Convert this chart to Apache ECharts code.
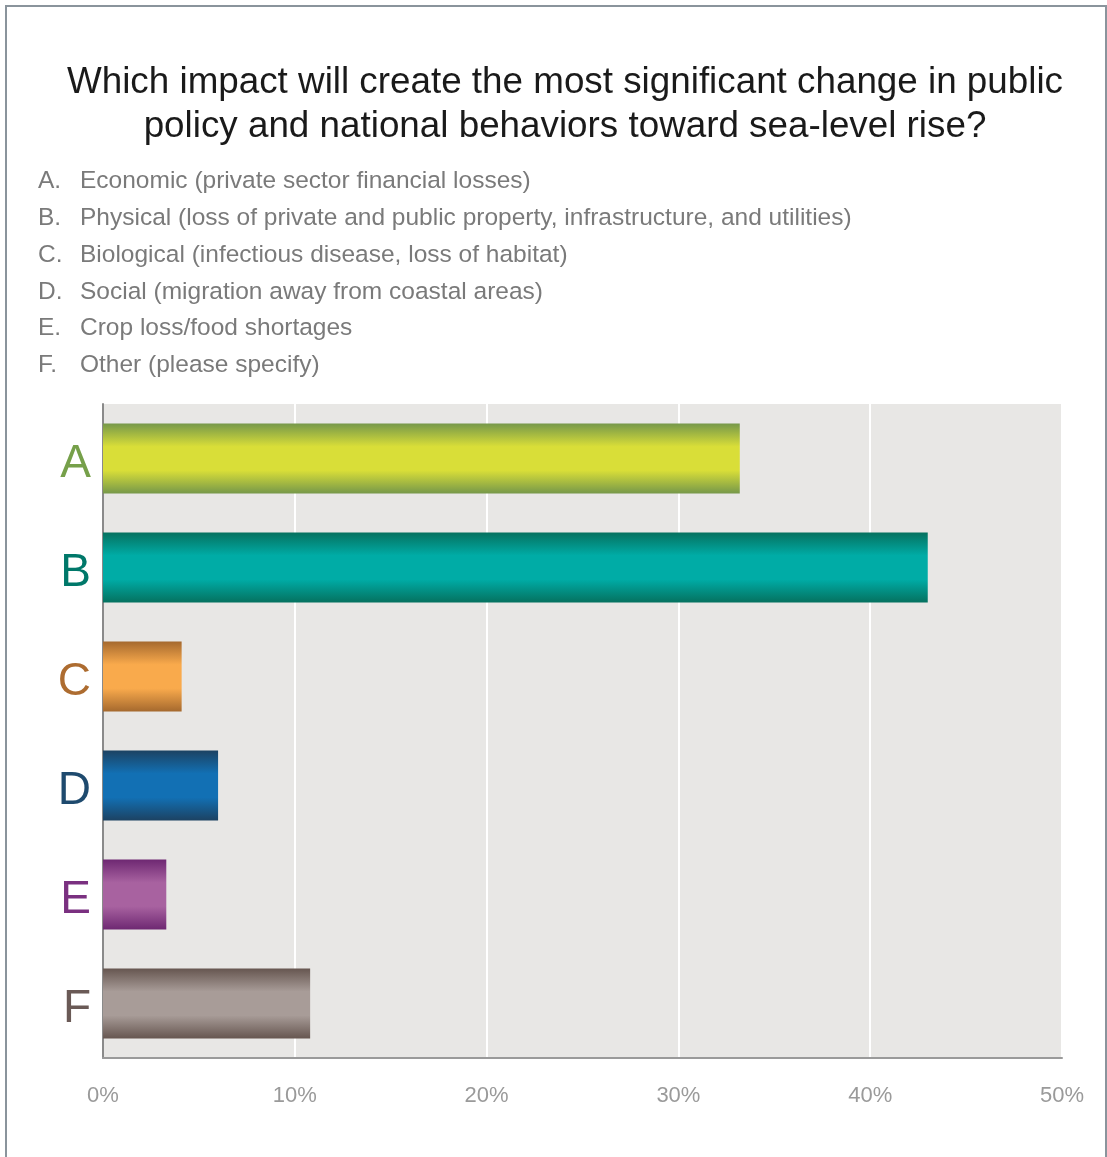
<!DOCTYPE html>
<html>
<head>
<meta charset="utf-8">
<style>
  html, body { margin: 0; padding: 0; background: #ffffff; }
  #chart { width: 1107px; height: 1157px; }
</style>
<script src="https://cdn.jsdelivr.net/npm/echarts@6/dist/echarts.min.js"></script>
</head>
<body>
<div id="chart"></div>
<script>
// Survey answers and their share of responses (%)
const categories = ['A', 'B', 'C', 'D', 'E', 'F'];
const shares = [33.2, 43.0, 4.1, 6.0, 3.3, 10.8];
const answerKeys = ['A.', 'B.', 'C.', 'D.', 'E.', 'F.'];
const answerTexts = [
  'Economic (private sector financial losses)',
  'Physical (loss of private and public property, infrastructure, and utilities)',
  'Biological (infectious disease, loss of habitat)',
  'Social (migration away from coastal areas)',
  'Crop loss/food shortages',
  'Other (please specify)'
];
const titleLines = [
  'Which impact will create the most significant change in public',
  'policy and national behaviors toward sea-level rise?'
];
const xTicks = { min: 0, max: 50, step: 10 };

// Per-answer palette: [edge shade, centre highlight, letter colour]
const palette = [
  ['#76984a', '#d9de38', '#76a04a'],
  ['#05715f', '#00aca6', '#00786a'],
  ['#a5692e', '#f9aa4c', '#ad6c30'],
  ['#1c4262', '#1270b4', '#1e4a6e'],
  ['#6e2872', '#a862a0', '#7a3080'],
  ['#665650', '#a89c98', '#6a5a56']
];

// Rounded "tube" look: dark edges fading to a bright centre band
function tube(edge, mid) {
  return new echarts.graphic.LinearGradient(0, 0, 0, 1, [
    { offset: 0, color: edge },
    { offset: 0.33, color: mid },
    { offset: 0.67, color: mid },
    { offset: 1, color: edge }
  ]);
}

const font = 'Arial, "Liberation Sans", Helvetica, sans-serif';
const graphics = [
  {
    type: 'rect', silent: true, z: 0,
    shape: { x: 6, y: 6, width: 1100, height: 1200 },
    style: { fill: 'none', stroke: '#8a949c', lineWidth: 2 }
  }
];
titleLines.forEach((t, i) => {
  graphics.push({
    type: 'text', x: 565, y: 64 + i * 44,
    style: { text: t, font: '36.8px ' + font, fill: '#1a1a1a', textAlign: 'center' }
  });
});
answerKeys.forEach((k, i) => {
  const y = 169 + i * 36.8;
  graphics.push({
    type: 'text', x: 38, y: y,
    style: { text: k, font: '24.5px ' + font, fill: '#7a7a7a' }
  });
  graphics.push({
    type: 'text', x: 80, y: y,
    style: { text: answerTexts[i], font: '24.5px ' + font, fill: '#7a7a7a' }
  });
});

const chart = echarts.init(document.getElementById('chart'), null, { renderer: 'canvas' });
chart.setOption({
  animation: false,
  backgroundColor: '#ffffff',
  graphic: graphics,
  grid: {
    left: 103, right: 45, top: 404, bottom: 99,
    show: true, backgroundColor: '#e8e7e5', borderWidth: 0
  },
  xAxis: {
    type: 'value',
    min: xTicks.min, max: xTicks.max, interval: xTicks.step,
    axisLine: { show: true, lineStyle: { color: '#9a9a9a', width: 2 } },
    axisTick: { show: false },
    splitLine: { show: true, lineStyle: { color: '#ffffff', width: 2 } },
    axisLabel: {
      formatter: '{value}%', color: '#9a9a9a', fontSize: 22,
      fontFamily: font, margin: 27
    }
  },
  yAxis: {
    type: 'category',
    data: categories,
    inverse: true,
    axisLine: { show: true, onZero: false, lineStyle: { color: '#8a8a8a', width: 2 } },
    axisTick: { show: false },
    splitLine: { show: false },
    axisLabel: {
      fontSize: 46, fontFamily: font, margin: 12,
      color: (v) => palette[categories.indexOf(v)][2],
      // letters sit slightly below the band centre
      formatter: (v) => '{L|' + v + '}',
      rich: { L: { fontSize: 46, fontFamily: font, padding: [12, 0, 0, 0] } }
    }
  },
  series: [{
    type: 'bar',
    barWidth: 70,
    data: shares.map((v, i) => ({
      value: v,
      itemStyle: { color: tube(palette[i][0], palette[i][1]) }
    }))
  }]
});
</script>
</body>
</html>
